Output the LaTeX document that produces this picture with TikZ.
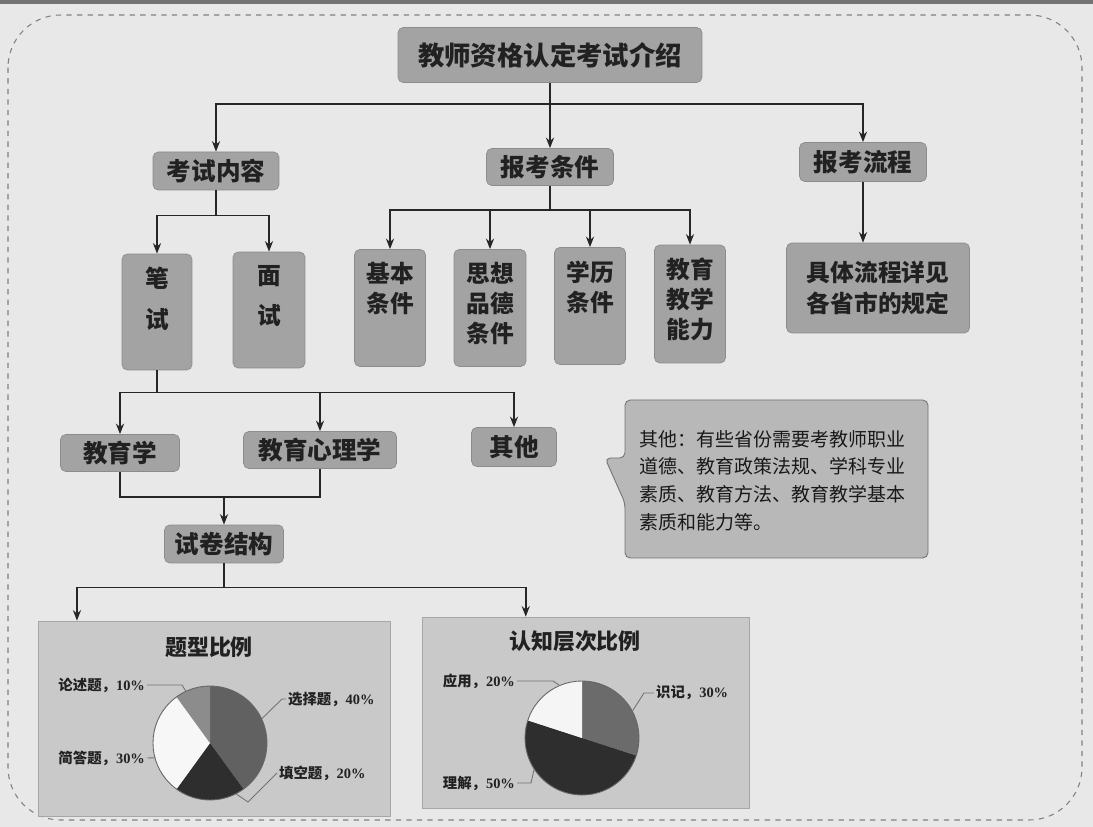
\documentclass[tikz,border=0pt]{standalone}
\usepackage{fontspec}
\setmainfont{Noto Sans CJK SC}
\newfontfamily\numfont{Liberation Serif}
\usepackage{xcolor}
\usepackage{tikz}
\usetikzlibrary{arrows.meta}

\definecolor{pagegray}{gray}{0.91}
\definecolor{boxgray}{gray}{0.64}
\definecolor{boxedge}{gray}{0.55}
\definecolor{chartgray}{gray}{0.79}
\definecolor{notegray}{gray}{0.72}
\definecolor{inkgray}{gray}{0.13}

\begin{document}
\begin{tikzpicture}[x=0.02cm,y=-0.02cm,>={Stealth[length=6pt,width=4.6pt]},
    hbox/.style={fill=boxgray,draw=boxedge,rounded corners=3pt,text=inkgray,
      font=\fontsize{14}{17}\selectfont\bfseries,inner sep=0pt},
    vbox/.style={fill=boxgray,draw=boxedge,rounded corners=3pt,inner sep=0pt,
      label={[anchor=north,yshift=-7.5pt,inner sep=0pt,align=center,text=inkgray,
        font=\fontsize{13.5}{17}\selectfont\bfseries]north:#1}},
    chart/.style={fill=chartgray,draw=black!35,line width=0.4pt},
    link/.style={line width=0.9pt,black!85},
    leader/.style={black!55,line width=0.5pt},
    plabel/.style={font=\fontsize{8.2}{10}\selectfont\bfseries,text=inkgray,inner sep=1pt}]
  \useasboundingbox (0,0) rectangle (1093,827);
  \fill[pagegray] (0,0) rectangle (1093,827);
  \fill[black!55] (0,0) rectangle (1093,4);
  \draw[black!50,dashed,line width=0.6pt,rounded corners=30] (8,15) rectangle (1082,820);

  % top levels
  \node[hbox,minimum width=6.08cm,minimum height=1.1cm,font=\fontsize{15}{18}\selectfont\bfseries]
    (title) at (550,55) {教师资格认定考试介绍};
  \node[hbox,minimum width=2.52cm,minimum height=0.76cm] (kaoshi) at (216,171) {考试内容};
  \node[hbox,minimum width=2.54cm,minimum height=0.74cm] (baokao) at (550,167) {报考条件};
  \node[hbox,minimum width=2.54cm,minimum height=0.78cm] (liucheng) at (863,162) {报考流程};
  \draw[link,->] (title.south) -- ++(0,21) -| (kaoshi.north);
  \draw[link,->] (title.south) -- ++(0,21) -| (liucheng.north);
  \draw[link,->] (title.south) -- (baokao.north);

  \node[vbox={笔\\[6pt]试},minimum width=1.40cm,minimum height=2.32cm] (bishi) at (157,312) {};
  \node[vbox={面\\[6pt]试},minimum width=1.44cm,minimum height=2.32cm] (mianshi) at (269,310) {};
  \draw[link,->] (kaoshi.south) -- ++(0,25) -| (bishi.north);
  \draw[link,->] (kaoshi.south) -- ++(0,25) -| (mianshi.north);

  \node[vbox={基本\\条件},minimum width=1.42cm,minimum height=2.34cm] (jiben) at (390,308) {};
  \node[vbox={思想\\品德\\条件},minimum width=1.44cm,minimum height=2.34cm] (sixiang) at (490,308) {};
  \node[vbox={学历\\条件},minimum width=1.42cm,minimum height=2.34cm] (xueli) at (590,306) {};
  \node[vbox={教育\\教学\\能力},minimum width=1.42cm,minimum height=2.36cm] (nengli) at (690,304) {};
  \foreach \kid in {jiben,sixiang,xueli,nengli}
    \draw[link,->] (baokao.south) -- ++(0,24) -| (\kid.north);

  \node[hbox,minimum width=3.66cm,minimum height=1.8cm,align=center,
    font=\fontsize{13.5}{18}\selectfont\bfseries] (guiding) at (878,288) {具体流程详见\\各省市的规定};
  \draw[link,->] (liucheng.south) -- (liucheng.south |- guiding.north);

  % written exam
  \node[hbox,minimum width=2.38cm,minimum height=0.74cm] (jiaoyuxue) at (120,453) {教育学};
  \node[hbox,minimum width=3.06cm,minimum height=0.74cm] (xinlixue) at (320,450) {教育心理学};
  \node[hbox,minimum width=1.70cm,minimum height=0.78cm] (qita) at (514,447) {其他};
  \foreach \kid in {jiaoyuxue,xinlixue,qita}
    \draw[link,->] (bishi.south) -- ++(0,22) -| (\kid.north);

  \node[hbox,minimum width=2.38cm,minimum height=0.76cm] (jiegou) at (224,544) {试卷结构};
  \coordinate (join) at (224,497);
  \draw[link] (jiaoyuxue.south) |- (join) -| (xinlixue.south);
  \draw[link,->] (join) -- (jiegou.north);

  % note
  \draw[fill=notegray,draw=black!55,line width=0.5pt,rounded corners=3pt]
    (625,400) -- (928,400) -- (928,558) -- (625,558) -- (625,503) -- (605,458) -- (625,458) -- cycle;
  \node[anchor=north west,align=left,inner sep=0pt,text=black!90,
    font=\fontsize{10.8}{15.7}\selectfont] (note) at (639,430)
    {其他：有些省份需要考教师职业\\道德、教育政策法规、学科专业\\素质、教育方法、教育教学基本\\素质和能力等。};

  % charts
  \node[chart,minimum width=7.04cm,minimum height=3.9cm] (tixing) at (214,718.5) {};
  \node[chart,minimum width=6.54cm,minimum height=3.82cm] (renzhi) at (585.5,712.5) {};
  \draw[link,->] (jiegou.south) -- ++(0,24) -| ([xshift=-78]tixing.north);
  \draw[link,->] (jiegou.south) -- ++(0,24) -| ([xshift=-34]renzhi.north);
  \node[font=\fontsize{12.5}{15}\selectfont\bfseries,text=inkgray] (tixingT) at (209,647) {题型比例};
  \node[font=\fontsize{12.5}{15}\selectfont\bfseries,text=inkgray] (renzhiT) at (575,641) {认知层次比例};

  \begin{scope}[shift={(210,743)},yscale=-1]
    \foreach \a/\b/\c in {90/-54/black!62,-54/-126/black!82,-126/-234/black!3,-234/-270/black!45}
      \fill[\c] (0,0) -- (\a:57) arc[start angle=\a,end angle=\b,radius=57] -- cycle;
    \draw[black!60,line width=0.5pt] (0,0) circle[radius=57];
    \coordinate (e1) at (115:57);
    \coordinate (e2) at (25:57);
    \coordinate (e3) at (195:57);
    \coordinate (e4) at (-63:57);
  \end{scope}
  \node[plabel,anchor=east] (lunshu) at (147,685) {论述题，{\numfont\bfseries 10\%}};
  \node[plabel,anchor=west] (xuanze) at (286,699) {选择题，{\numfont\bfseries 40\%}};
  \node[plabel,anchor=east] (jianda) at (147,758) {简答题，{\numfont\bfseries 30\%}};
  \node[plabel,anchor=west] (tiankong) at (277,773) {填空题，{\numfont\bfseries 20\%}};
  \draw[leader] (lunshu.east) -- ++(35,0) -- (e1);
  \draw[leader] (xuanze.west) -- ++(-4,0) -- (e2);
  \draw[leader] (jianda.east) -- (e3);
  \draw[leader] (tiankong.west) -- (248,802) -- (e4);

  \begin{scope}[shift={(582,738)},yscale=-1]
    \foreach \a/\b/\c in {90/-18/black!58,-18/-198/black!82,-198/-270/black!4}
      \fill[\c] (0,0) -- (\a:57) arc[start angle=\a,end angle=\b,radius=57] -- cycle;
    \draw[black!60,line width=0.5pt] (0,0) circle[radius=57];
    \coordinate (f1) at (113:57);
    \coordinate (f2) at (28:57);
    \coordinate (f3) at (213:57);
  \end{scope}
  \node[plabel,anchor=east] (yingyong) at (517,681) {应用，{\numfont\bfseries 20\%}};
  \node[plabel,anchor=west] (shiji) at (654,693) {识记，{\numfont\bfseries 30\%}};
  \node[plabel,anchor=east] (lijie) at (517,783) {理解，{\numfont\bfseries 50\%}};
  \draw[leader] (yingyong.east) -- ++(36,0) -- (f1);
  \draw[leader] (shiji.west) -- ++(-10,0) -- (f2);
  \draw[leader] (lijie.east) -- ++(14,0) -- (f3);
\end{tikzpicture}
\end{document}
